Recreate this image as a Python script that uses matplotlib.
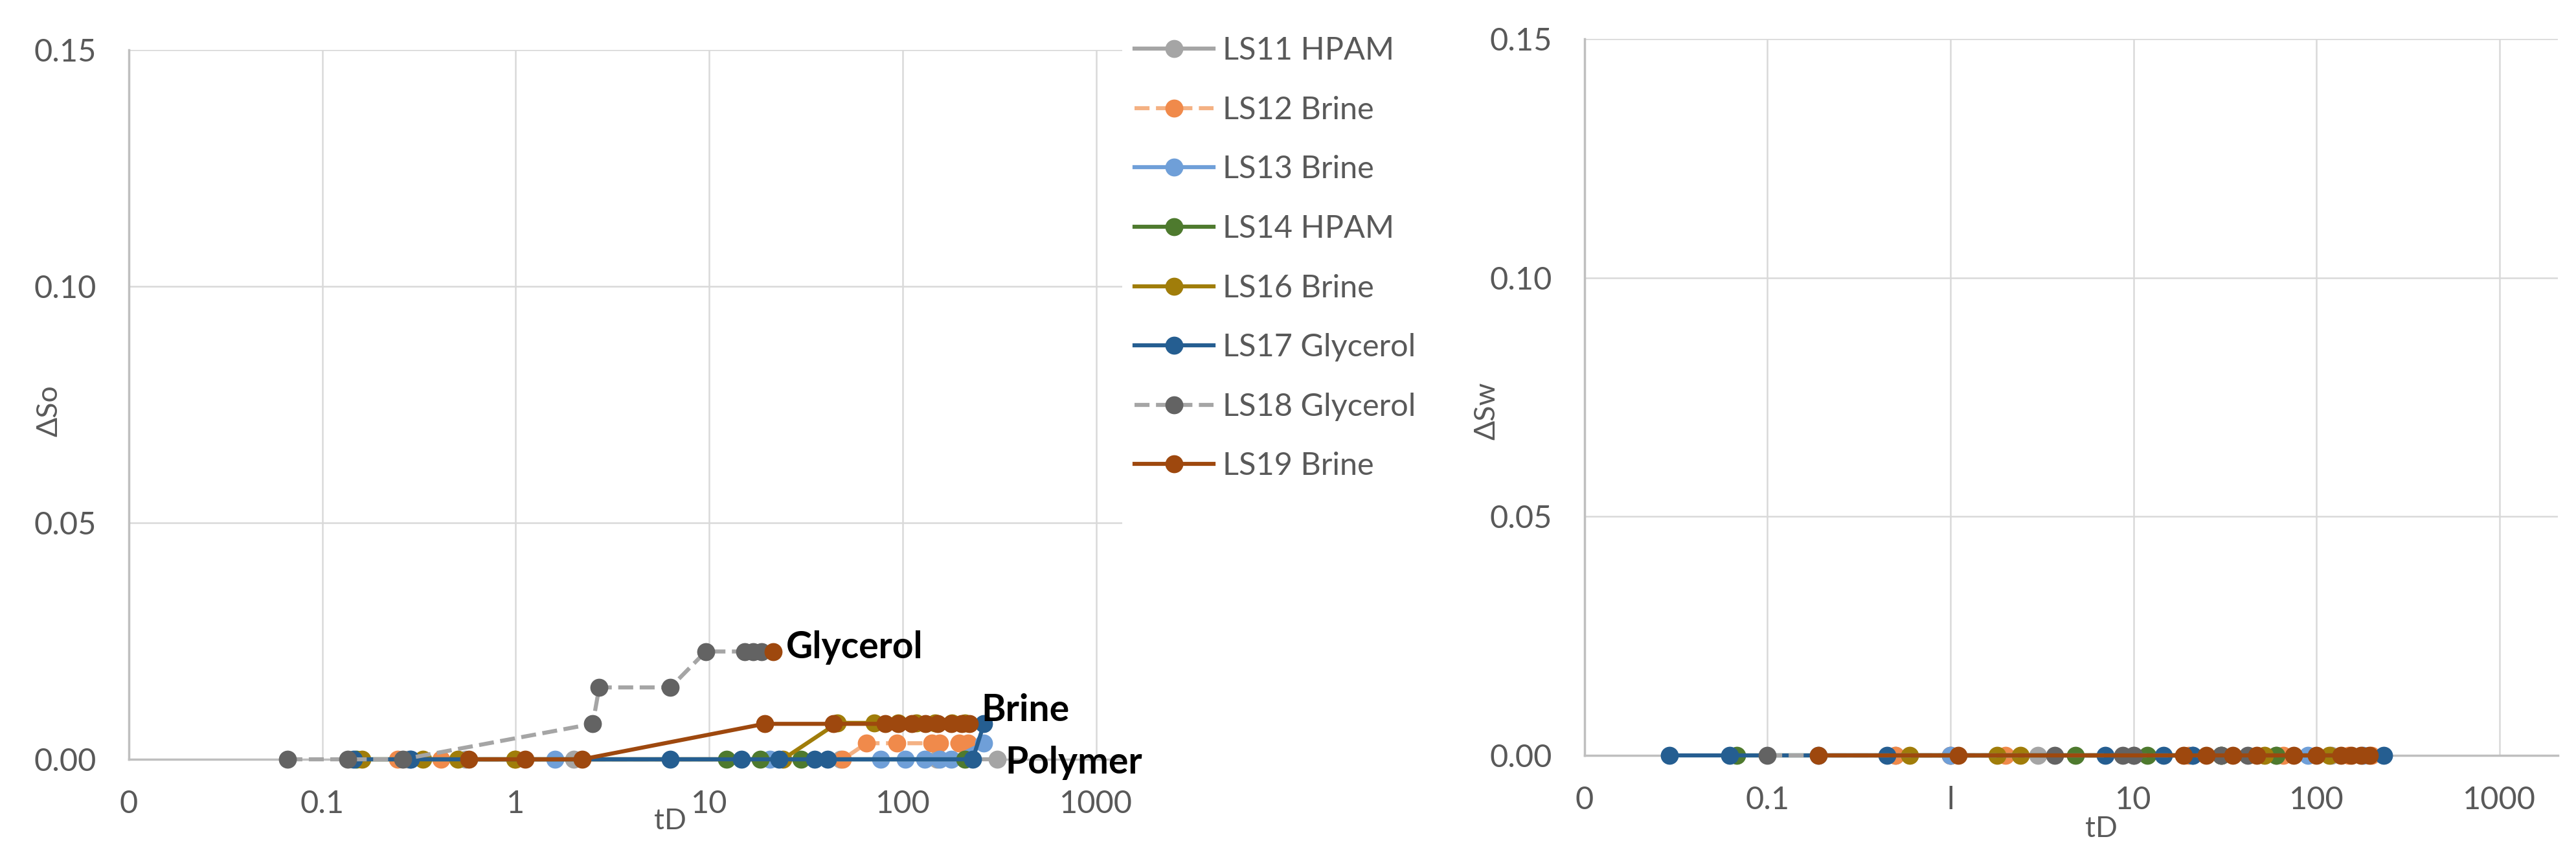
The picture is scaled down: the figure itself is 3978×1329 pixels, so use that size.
import matplotlib
matplotlib.use("Agg")
import matplotlib.pyplot as plt
import matplotlib.ticker as ticker

plt.rcParams['font.family'] = ['Lato', 'DejaVu Sans']

# ---- data: left chart (dSo vs tD) ----
so_ls11_x = [0.28, 0.55, 2.0, 47.6, 150, 309]
so_ls11_y = [0, 0, 0, 0, 0, 0]
so_ls12_x = [0.245, 0.41, 1.0, 49, 65, 93, 141, 155, 195, 217]
so_ls12_y = [0, 0, 0, 0, 0.0034, 0.0034, 0.0034, 0.0034, 0.0034, 0.0034]
so_ls13_x = [0.286, 1.6, 20.6, 77, 103, 130, 155, 178, 263]
so_ls13_y = [0, 0, 0, 0, 0, 0, 0, 0, 0.0034]
so_ls14_x = [0.15, 12.3, 18.3, 29.8, 209]
so_ls14_y = [0, 0, 0, 0, 0]
so_ls16_x = [0.16, 0.33, 0.50, 0.99, 24, 46, 71, 95, 118, 147, 180, 210]
so_ls16_y = [0, 0, 0, 0, 0, 0.0077, 0.0077, 0.0077, 0.0077, 0.0077, 0.0077, 0.0077]
so_ls17_x = [0.145, 0.286, 6.3, 14.7, 23, 35, 41, 230, 263]
so_ls17_y = [0, 0, 0, 0, 0, 0, 0, 0, 0.0075]
so_ls18_x = [0.066, 0.135, 0.26, 2.5, 2.7, 6.3, 9.6, 15.2, 16.8, 18.6]
so_ls18_y = [0, 0, 0, 0.0075, 0.0152, 0.0152, 0.0228, 0.0228, 0.0228, 0.0228]
so_ls19_x = [0.57, 1.12, 2.2, 19.3, 44, 81, 95, 111, 131, 152, 178, 201, 221]
so_ls19_y = [0, 0, 0, 0.0075, 0.0075, 0.0075, 0.0075, 0.0075, 0.0075, 0.0075, 0.0075, 0.0075, 0.0075]
so_extra_x = [21.4]
so_extra_y = [0.0228]

# ---- data: right chart (dSw vs tD), all zero ----
sw_ls11_x = [0.5, 1.0, 3.0, 10, 30, 60, 120]
sw_ls12_x = [0.5, 1.0, 2.0, 20, 66, 150, 200]
sw_ls13_x = [0.19, 1.0, 21, 90, 180]
sw_ls14_x = [0.068, 4.8, 11.9, 30, 60]
sw_ls16_x = [0.6, 1.8, 2.4, 52, 117]
sw_ls17_x = [0.029, 0.062, 0.45, 7.0, 14.6, 21, 233]
sw_ls18_x = [0.10, 3.7, 8.7, 10, 30, 42]
sw_ls19_x = [0.19, 1.1, 18.8, 25, 35, 47, 75, 100, 136, 155, 175, 195]

labels = ['LS11 HPAM', 'LS12 Brine', 'LS13 Brine', 'LS14 HPAM',
          'LS16 Brine', 'LS17 Glycerol', 'LS18 Glycerol', 'LS19 Brine']
xticks = [0.01, 0.1, 1, 10, 100, 1000]
left_xticklabels = ['0', '0.1', '1', '10', '100', '1000']
right_xticklabels = ['0', '0.1', 'l', '10', '100', '1000']
yticks = [0.0, 0.05, 0.10, 0.15]

# style per series: (line colour, marker colour, linestyle)
styles = [
    ('#A5A5A5', '#A5A5A5', '-'),
    ('#F4B183', '#F08A4B', '--'),
    ('#6F9FD8', '#6F9FD8', '-'),
    ('#4E7A2E', '#4E7A2E', '-'),
    ('#A07D0A', '#A07D0A', '-'),
    ('#255E91', '#255E91', '-'),
    ('#A5A5A5', '#636363', '--'),
    ('#9E480E', '#9E480E', '-'),
]

GRID = '#D9D9D9'
AXC = '#BFBFBF'
TXT = '#595959'
FS = 35
MS = 19
LW = 4.5

fig = plt.figure(figsize=(39.78, 13.29), dpi=100)
ax1 = fig.add_axes([0.0500, 0.1181, 0.3856, 0.8240])
ax2 = fig.add_axes([0.6151, 0.1226, 0.3778, 0.8323])


def plot_series(ax, x, y, st, label=None):
    lc, mc, ls = st
    ax.plot(x, y, color=lc, linestyle=ls, linewidth=LW, marker='o',
            markersize=MS, markerfacecolor=mc, markeredgecolor=mc,
            clip_on=False, label=label, zorder=3)


so_x = [so_ls11_x, so_ls12_x, so_ls13_x, so_ls14_x, so_ls16_x, so_ls17_x, so_ls18_x, so_ls19_x]
so_y = [so_ls11_y, so_ls12_y, so_ls13_y, so_ls14_y, so_ls16_y, so_ls17_y, so_ls18_y, so_ls19_y]
for x, y, st, lab in zip(so_x, so_y, styles, labels):
    plot_series(ax1, x, y, st, lab)
ax1.plot(so_extra_x, so_extra_y, 'o', color='#9E480E', markersize=MS, zorder=4)

sw_x = [sw_ls11_x, sw_ls12_x, sw_ls13_x, sw_ls14_x, sw_ls16_x, sw_ls17_x, sw_ls18_x, sw_ls19_x]
for x, st in zip(sw_x, styles):
    plot_series(ax2, x, [0] * len(x), st)

for ax, xmax, xlabs in [(ax1, 10 ** 3.134, left_xticklabels), (ax2, 10 ** 3.318, right_xticklabels)]:
    ax.set_xscale('log')
    ax.set_xlim(0.01, xmax)
    ax.set_ylim(0, 0.15)
    ax.set_xticks(xticks)
    ax.set_xticklabels(xlabs)
    ax.xaxis.set_minor_locator(ticker.NullLocator())
    ax.set_yticks(yticks)
    ax.yaxis.set_major_formatter(ticker.FormatStrFormatter('%.2f'))
    ax.tick_params(length=0, labelsize=FS, labelcolor=TXT)
    ax.tick_params(axis='y', pad=36)
    ax.tick_params(axis='x', pad=34)
    ax.grid(True, color=GRID, linewidth=1.8, zorder=0)
    ax.set_axisbelow(True)
    for s in ['top', 'right']:
        ax.spines[s].set_visible(False)
    for s in ['left', 'bottom']:
        ax.spines[s].set_color(AXC)
        ax.spines[s].set_linewidth(2.5)

# axis titles
fig.text(76 / 3978, 1 - 634 / 1329, 'ΔSo', rotation=90, ha='center', va='center', fontsize=32, color=TXT)
fig.text(1035 / 3978, 1 - 1268 / 1329, 'tD', ha='center', va='center', fontsize=32, color=TXT)
fig.text(2296 / 3978, 1 - 634 / 1329, 'ΔSw', rotation=90, ha='center', va='center', fontsize=32, color=TXT)
fig.text(3245 / 3978, 1 - 1280 / 1329, 'tD', ha='center', va='center', fontsize=32, color=TXT)

# annotations
for txt, x, y in [('Glycerol', 24.9, 0.0236), ('Brine', 254, 0.0103), ('Polymer', 339, -0.0007)]:
    ax1.text(x, y, txt, ha='left', va='center', fontsize=41, fontweight='bold',
             color='black', clip_on=False, zorder=5)

leg = ax1.legend(loc='upper left', bbox_to_anchor=(1752 / 3978, 1 - 56 / 1329),
                 bbox_transform=fig.transFigure, frameon=False, fontsize=FS,
                 handlelength=2.5, handletextpad=0.3, labelspacing=0.98,
                 borderpad=0, borderaxespad=0)
for t in leg.get_texts():
    t.set_color(TXT)

plt.savefig('out.png', dpi=100)
